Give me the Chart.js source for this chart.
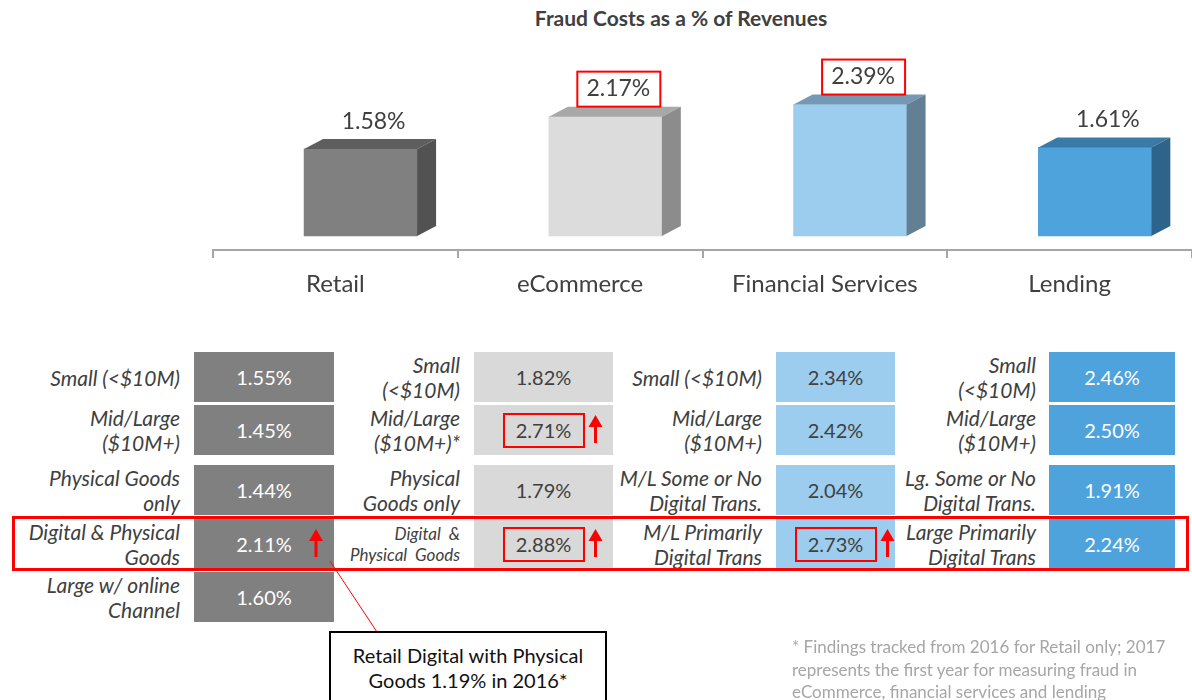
<!DOCTYPE html>
<html>
<head>
<meta charset="utf-8">
<script src="https://cdn.jsdelivr.net/npm/chart.js@4.4.1/dist/chart.umd.min.js"></script>
<style>
  body { margin: 0; width: 1192px; height: 700px; overflow: hidden; position: relative; background: #fff;
         font-family: Lato, "Open Sans", sans-serif; color: #404040; }
  #title { position: absolute; left: 431px; width: 500px; top: 5px; text-align: center; font-weight: bold; font-size: 21px; color: #404040; }
  #top { position: absolute; left: 0; top: 0; }
  .lbl { position: absolute; display: flex; flex-direction: column; justify-content: center; align-items: flex-end;
         text-align: right; font-style: italic; font-size: 21px; line-height: 25px; white-space: pre; }
  .cell { position: absolute; display: flex; align-items: center; justify-content: center; font-size: 20px; }
  .hl { position: absolute; border: 2px solid #ff0000; box-sizing: border-box; }
  #band { position: absolute; left: 12px; top: 516px; width: 1177px; height: 55px; border: 3px solid #ff0000; box-sizing: border-box; }
  #callout { position: absolute; left: 329px; top: 631px; width: 278px; height: 90px; border: 2px solid #000; box-sizing: border-box;
             background: #fff; text-align: center; font-size: 20px; line-height: 25px; color: #111; padding-top: 10px; }
  #note { position: absolute; left: 792px; top: 636px; font-size: 17px; line-height: 22.5px; color: #a6a6a6; white-space: pre; }
  svg { position: absolute; left: 0; top: 0; }
</style>
</head>
<body>
<div id="title">Fraud Costs as a % of Revenues</div>
<canvas id="top" width="1192" height="310"></canvas>
<div id="table"></div>
<div id="band"></div>
<svg id="marks" width="1192" height="700"></svg>
<div id="callout">Retail Digital with Physical<br>Goods 1.19% in 2016*</div>
<div id="note">* Findings tracked from 2016 for Retail only; 2017
represents the first year for measuring fraud in
eCommerce, financial services and lending</div>
<script>
// top chart data
const sectors = ['Retail', 'eCommerce', 'Financial Services', 'Lending'];
const sectorCosts = [1.58, 2.17, 2.39, 1.61];
const sectorBoxed = [false, true, true, false];

// segment breakdown
const retailSegments = ['Small (<$10M)', 'Mid/Large\n($10M+)', 'Physical Goods\nonly', 'Digital & Physical\nGoods', 'Large w/ online\nChannel'];
const retailCosts = [1.55, 1.45, 1.44, 2.11, 1.60];
const ecomSegments = ['Small\n(<$10M)', 'Mid/Large\n($10M+)*', 'Physical\nGoods only', 'Digital  &\nPhysical  Goods'];
const ecomCosts = [1.82, 2.71, 1.79, 2.88];
const finSegments = ['Small (<$10M)', 'Mid/Large\n($10M+)', 'M/L Some or No\nDigital Trans.', 'M/L Primarily\nDigital Trans'];
const finCosts = [2.34, 2.42, 2.04, 2.73];
const lendSegments = ['Small\n(<$10M)', 'Mid/Large\n($10M+)', 'Lg. Some or No\nDigital Trans.', 'Large Primarily\nDigital Trans'];
const lendCosts = [2.46, 2.50, 1.91, 2.24];

// which segment values get a red box / an up arrow
const boxedRows = [[], [1, 3], [3], []];
const arrowRows = [[3], [1, 3], [3], []];

// styles
const frontColors = ['#808080', '#dcdcdc', '#9dcdee', '#4ea3dc'];
const topColors = ['#5e5e5e', '#a8a8a8', '#7399b4', '#3a7aa6'];
const sideColors = ['#525252', '#8c8c8c', '#637f94', '#2e6489'];
const DX = 19, DY = 10;

const bar3d = {
  id: 'bar3d',
  afterDatasetsDraw(chart) {
    const ctx = chart.ctx;
    chart.getDatasetMeta(0).data.forEach((bar, i) => {
      const p = bar.getProps(['x', 'y', 'base', 'width'], true);
      const l = p.x - p.width / 2, r = p.x + p.width / 2, t = p.y, b = p.base;
      ctx.save();
      ctx.fillStyle = topColors[i];
      ctx.beginPath();
      ctx.moveTo(l, t); ctx.lineTo(l + DX, t - DY); ctx.lineTo(r + DX, t - DY); ctx.lineTo(r, t);
      ctx.closePath(); ctx.fill();
      ctx.fillStyle = sideColors[i];
      ctx.beginPath();
      ctx.moveTo(r, t); ctx.lineTo(r + DX, t - DY); ctx.lineTo(r + DX, b - DY); ctx.lineTo(r, b);
      ctx.closePath(); ctx.fill();

      const cx = p.x + 13, cy = t - 28;
      ctx.font = '23px Lato';
      ctx.fillStyle = '#404040';
      ctx.textAlign = 'center';
      ctx.textBaseline = 'middle';
      ctx.fillText(sectorCosts[i].toFixed(2) + '%', cx, cy);
      if (sectorBoxed[i]) {
        ctx.strokeStyle = '#ff0000';
        ctx.lineWidth = 2;
        ctx.strokeRect(cx - 41, cy - 17, 83, 35);
      }
      ctx.restore();
    });
  }
};

new Chart(document.getElementById('top'), {
  type: 'bar',
  data: {
    labels: sectors,
    datasets: [{
      data: sectorCosts.map((v, i) => ({ x: i, y: v })),
      xAxisID: 'xb',
      yAxisID: 'y',
      base: 0,
      backgroundColor: frontColors,
      borderWidth: 0,
      barThickness: 113
    }]
  },
  options: {
    responsive: false,
    animation: false,
    layout: { padding: { left: 213, right: 0, top: 30, bottom: 0 } },
    plugins: { legend: { display: false }, tooltip: { enabled: false } },
    scales: {
      x: {
        type: 'category',
        position: 'bottom',
        offset: true,
        grid: { offset: true, drawOnChartArea: false, tickLength: 8, color: '#a6a6a6', lineWidth: 2 },
        border: { color: '#a6a6a6', width: 2 },
        ticks: { font: { family: 'Lato', size: 24 }, color: '#404040', padding: 12 },
        afterFit: s => { s.height = 60; }
      },
      xb: { type: 'linear', display: false, offset: false, grid: { offset: false }, min: -0.603, max: 3.397 },
      y: { display: false, min: -14 / 55, max: 4 - 14 / 55 }
    }
  },
  plugins: [bar3d]
});

// segment table
const columns = [
  { segs: retailSegments, vals: retailCosts, labelRight: 180, left: 194, width: 140, fill: '#808080', ink: '#ffffff' },
  { segs: ecomSegments, vals: ecomCosts, labelRight: 460, left: 474, width: 139, fill: '#d9d9d9', ink: '#404040' },
  { segs: finSegments, vals: finCosts, labelRight: 762, left: 776, width: 119, fill: '#9dcdee', ink: '#404040' },
  { segs: lendSegments, vals: lendCosts, labelRight: 1036, left: 1049, width: 126, fill: '#4ea3dc', ink: '#ffffff' }
];
const rowTops = [352, 405, 465, 519, 572];
const rowH = 50;

const table = document.getElementById('table');
const svg = document.getElementById('marks');
let marks = '';
columns.forEach((col, c) => {
  col.vals.forEach((v, r) => {
    const top = rowTops[r];
    const lbl = document.createElement('div');
    lbl.className = 'lbl';
    lbl.style.cssText = `left:0;width:${col.labelRight}px;top:${top}px;height:${rowH}px;`;
    if (c === 1 && r === 3) { lbl.style.fontSize = '17px'; lbl.style.lineHeight = '21px'; }
    lbl.textContent = col.segs[r];
    table.appendChild(lbl);

    const cell = document.createElement('div');
    cell.className = 'cell';
    cell.style.cssText = `left:${col.left}px;width:${col.width}px;top:${top}px;height:${rowH}px;background:${col.fill};color:${col.ink};`;
    cell.textContent = v.toFixed(2) + '%';
    table.appendChild(cell);

    const mid = col.left + col.width / 2;
    if (boxedRows[c].includes(r)) {
      const hl = document.createElement('div');
      hl.className = 'hl';
      hl.style.cssText = `left:${mid - 41}px;top:${top + 8}px;width:82px;height:35px;`;
      table.appendChild(hl);
    }
    if (arrowRows[c].includes(r)) {
      const ax = mid + 52, tip = top + 10, foot = top + 38;
      marks += `<rect x="${ax - 1.5}" y="${tip + 10}" width="3" height="${foot - tip - 10}" fill="#ff0000"/>` +
               `<polygon points="${ax - 7},${tip + 12} ${ax},${tip} ${ax + 7},${tip + 12}" fill="#ff0000"/>`;
    }
  });
});
marks += '<line x1="330" y1="561" x2="377" y2="632" stroke="#ff0000" stroke-width="1"/>';
svg.innerHTML = marks;
</script>
</body>
</html>
